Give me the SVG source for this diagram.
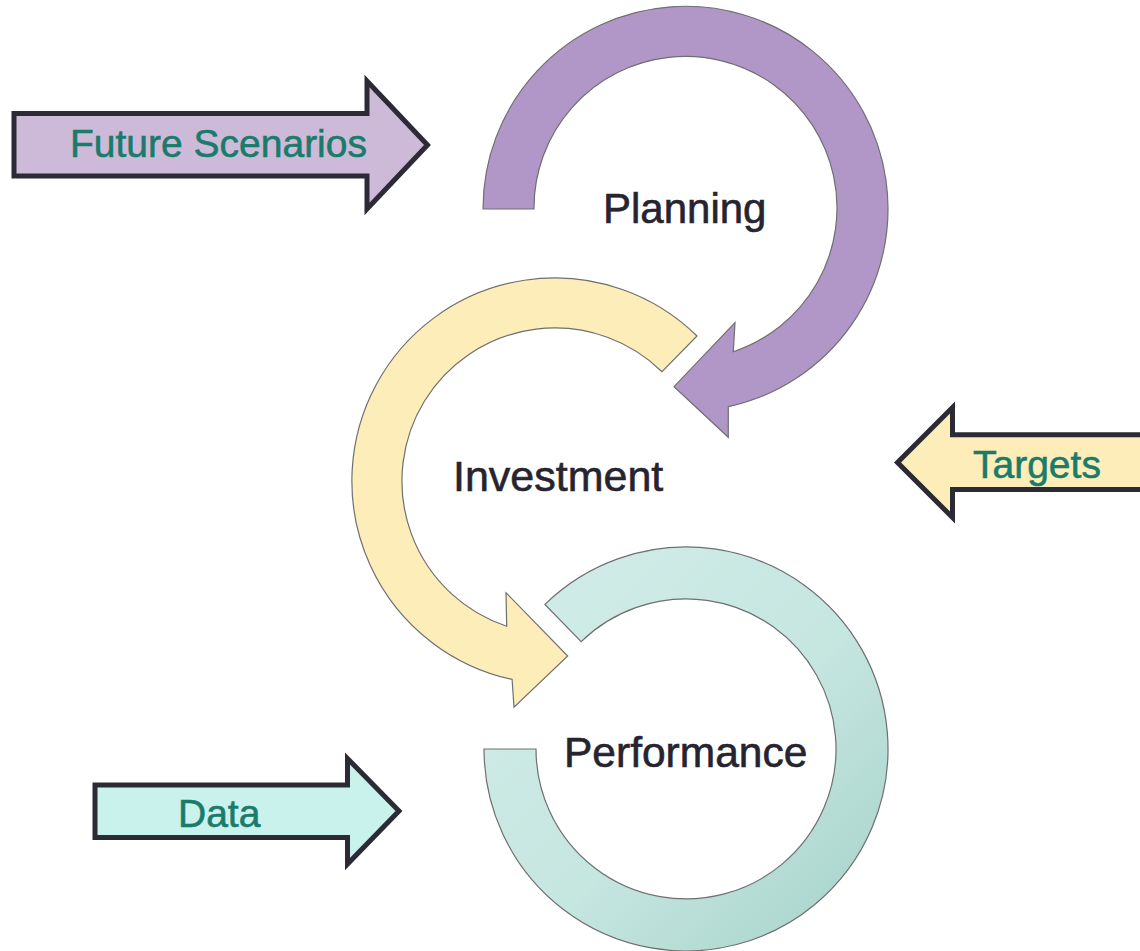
<svg xmlns="http://www.w3.org/2000/svg" width="1140" height="951" viewBox="0 0 1140 951">
  <defs>
    <linearGradient id="tealGrad" x1="0" y1="0" x2="1" y2="1">
      <stop offset="0" stop-color="#d3ede9"/>
      <stop offset="0.55" stop-color="#c6e6e0"/>
      <stop offset="1" stop-color="#a3d2c8"/>
    </linearGradient>
  </defs>
  <style>
    .ring { stroke: #6f6f70; stroke-width: 1.2; stroke-linejoin: miter; }
    .block { stroke: #2b2a35; stroke-width: 5; stroke-linejoin: miter; stroke-miterlimit: 10; }
    .label { font-family: "Liberation Sans", Arial, sans-serif; fill: #25242f; stroke: #25242f; stroke-width: 0.6; }
    .input { font-family: "Liberation Sans", Arial, sans-serif; fill: #1b7b6b; stroke: #1b7b6b; stroke-width: 0.6; font-size: 39px; }
  </style>

  <!-- cycle: three curved arrows -->
  <g id="performance">
    <path class="ring" fill="url(#tealGrad)" d="M 484,749 A 202 202 0 1 0 544.9,604.4 L 581.2,641.6 A 150 150 0 1 1 536,749 Z"/>
    <text class="label" x="564" y="766.7" font-size="42.5">Performance</text>
  </g>

  <g id="investment">
    <path class="ring" fill="#fdedb9" d="M 697,336 A 203 203 0 1 0 512.1,679.4 L 514,707.3 L 567.7,656 L 506,592.7 L 506.7,626.2 A 153 153 0 1 1 662,371.7 Z"/>
    <text class="label" x="453" y="490.7" font-size="43">Investment</text>
  </g>

  <g id="planning">
    <path class="ring" fill="#b197c8" d="M 483,209 A 202.5 202.5 0 1 1 728.3,406.7 L 728.3,437.3 L 674,386.7 L 735,322.7 L 733.3,351.7 A 151.5 151.5 0 1 0 534,209 Z"/>
    <text class="label" x="603" y="222.7" font-size="42">Planning</text>
  </g>

  <!-- inputs feeding the cycle -->
  <g id="future-scenarios">
    <polygon class="block" fill="#cdbad9" points="14,113.5 367,113.5 367,81 427.5,145 367,209 367,176 14,176"/>
    <text class="input" x="70" y="156.7">Future Scenarios</text>
  </g>

  <g id="targets">
    <polygon class="block" fill="#fdedb9" points="1150,434.8 952.5,434.8 952.5,407.5 897.5,462.5 952.5,517.5 952.5,489.5 1150,489.5"/>
    <text class="input" x="973" y="478">Targets</text>
  </g>

  <g id="data">
    <polygon class="block" fill="#c9f2ec" points="95,785 347.5,785 347.5,758.5 399,811 347.5,864 347.5,837.5 95,837.5"/>
    <text class="input" x="178" y="827">Data</text>
  </g>

  <g id="connectors"></g>
</svg>
